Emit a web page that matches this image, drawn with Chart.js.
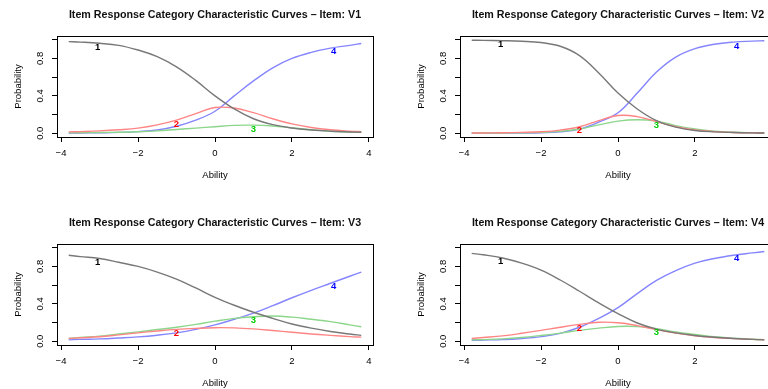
<!DOCTYPE html>
<html>
<head>
<meta charset="utf-8">
<script src="https://cdn.jsdelivr.net/npm/chart.js@4/dist/chart.umd.min.js"></script>
<style>
  html, body { margin: 0; padding: 0; background: #fff; overflow: hidden; width: 768px; height: 389px; }
  .panel { position: absolute; width: 403px; height: 208px; }
</style>
</head>
<body>
<canvas id="c1" class="panel" width="403" height="208" style="left:0px;top:0px"></canvas>
<canvas id="c2" class="panel" width="403" height="208" style="left:403px;top:0px"></canvas>
<canvas id="c3" class="panel" width="403" height="208" style="left:0px;top:208px"></canvas>
<canvas id="c4" class="panel" width="403" height="208" style="left:403px;top:208px"></canvas>
<script>
// ---- data ----
const theta = [-3.8, -3.5, -3, -2.5, -2, -1.5, -1, -0.5, 0, 0.5, 1, 1.5, 2, 2.5, 3, 3.5, 3.8];

const itemNames = ['V1', 'V2', 'V3', 'V4'];
const categoryNames = ['1', '2', '3', '4'];
const categoryLabelTheta = [-3.05, -1, 1, 3.08];

// Item V1
const v1Cat1 = [0.98, 0.975, 0.962, 0.94, 0.89, 0.82, 0.71, 0.565, 0.40, 0.26, 0.155, 0.092, 0.056, 0.035, 0.022, 0.014, 0.01];
const v1Cat2 = [0.015, 0.018, 0.025, 0.037, 0.055, 0.09, 0.14, 0.21, 0.275, 0.27, 0.22, 0.155, 0.10, 0.062, 0.037, 0.022, 0.016];
const v1Cat3 = [0.004, 0.005, 0.008, 0.011, 0.016, 0.025, 0.04, 0.055, 0.07, 0.084, 0.087, 0.078, 0.058, 0.038, 0.022, 0.013, 0.009];
const v1Cat4 = [0.002, 0.003, 0.005, 0.009, 0.018, 0.035, 0.075, 0.14, 0.235, 0.40, 0.56, 0.70, 0.80, 0.865, 0.91, 0.94, 0.96];

// Item V2
const v2Cat1 = [0.995, 0.993, 0.99, 0.984, 0.97, 0.93, 0.83, 0.645, 0.43, 0.26, 0.135, 0.065, 0.03, 0.015, 0.008, 0.004, 0.003];
const v2Cat2 = [0.002, 0.003, 0.005, 0.009, 0.016, 0.034, 0.07, 0.135, 0.19, 0.178, 0.125, 0.07, 0.035, 0.018, 0.008, 0.004, 0.002];
const v2Cat3 = [0.001, 0.002, 0.003, 0.005, 0.009, 0.02, 0.045, 0.09, 0.13, 0.145, 0.13, 0.082, 0.045, 0.022, 0.01, 0.005, 0.003];
const v2Cat4 = [0.0, 0.0, 0.001, 0.002, 0.005, 0.015, 0.045, 0.12, 0.22, 0.43, 0.655, 0.815, 0.905, 0.952, 0.975, 0.985, 0.99];

// Item V3
const v3Cat1 = [0.92, 0.905, 0.885, 0.845, 0.80, 0.74, 0.665, 0.57, 0.47, 0.385, 0.31, 0.245, 0.185, 0.14, 0.105, 0.077, 0.063];
const v3Cat2 = [0.03, 0.037, 0.048, 0.068, 0.09, 0.11, 0.127, 0.138, 0.145, 0.143, 0.132, 0.115, 0.097, 0.078, 0.063, 0.05, 0.044];
const v3Cat3 = [0.03, 0.04, 0.055, 0.078, 0.10, 0.125, 0.15, 0.18, 0.215, 0.245, 0.262, 0.27, 0.258, 0.235, 0.21, 0.175, 0.155];
const v3Cat4 = [0.015, 0.02, 0.025, 0.035, 0.047, 0.065, 0.09, 0.127, 0.175, 0.235, 0.30, 0.38, 0.465, 0.545, 0.62, 0.695, 0.74];

// Item V4
const v4Cat1 = [0.94, 0.925, 0.89, 0.835, 0.76, 0.655, 0.535, 0.41, 0.295, 0.195, 0.13, 0.09, 0.062, 0.043, 0.03, 0.02, 0.015];
const v4Cat2 = [0.03, 0.04, 0.058, 0.085, 0.116, 0.15, 0.18, 0.203, 0.198, 0.167, 0.124, 0.087, 0.058, 0.04, 0.028, 0.02, 0.015];
const v4Cat3 = [0.015, 0.018, 0.025, 0.04, 0.062, 0.087, 0.116, 0.14, 0.158, 0.157, 0.135, 0.10, 0.073, 0.048, 0.033, 0.022, 0.018];
const v4Cat4 = [0.01, 0.013, 0.018, 0.03, 0.05, 0.085, 0.15, 0.245, 0.36, 0.51, 0.65, 0.755, 0.835, 0.885, 0.92, 0.945, 0.96];

const xTicks = [-4, -2, 0, 2, 4];
const xTickLabels = ['\u22124', '\u22122', '0', '2', '4'];
const yTicks = [0, 0.2, 0.4, 0.6, 0.8, 1.0];
const yTickLabels = ['0.0', '', '0.4', '', '0.8', ''];

// ---- styling ----
const lineColors = ['#787878', '#ff8585', '#8cd68c', '#8585ff'];
const labelColors = ['#000000', '#ff0000', '#00cd00', '#0000ff'];
const FONT = '"Liberation Sans", Arial, Helvetica, sans-serif';

const items = [
  [v1Cat1, v1Cat2, v1Cat3, v1Cat4],
  [v2Cat1, v2Cat2, v2Cat3, v2Cat4],
  [v3Cat1, v3Cat2, v3Cat3, v3Cat4],
  [v4Cat1, v4Cat2, v4Cat3, v4Cat4]
];

function interp(xs, ys, t) {
  for (let i = 0; i < xs.length - 1; i++) {
    if (t >= xs[i] && t <= xs[i + 1]) {
      const f = (t - xs[i]) / (xs[i + 1] - xs[i]);
      return ys[i] + f * (ys[i + 1] - ys[i]);
    }
  }
  return ys[ys.length - 1];
}

const boxAndLabels = {
  id: 'boxAndLabels',
  afterDatasetsDraw(chart) {
    const {ctx, chartArea: a, scales: {x, y}} = chart;
    ctx.save();
    // category labels along each curve
    ctx.font = 'bold 9.5px ' + FONT;
    ctx.textAlign = 'center';
    ctx.textBaseline = 'middle';
    chart.data.datasets.forEach((ds, i) => {
      const t = categoryLabelTheta[i];
      const p = interp(theta, ds.probs, t);
      ctx.fillStyle = labelColors[i];
      ctx.fillText(categoryNames[i], x.getPixelForValue(t), y.getPixelForValue(p) + 4);
    });
    // plot box
    ctx.strokeStyle = '#000';
    ctx.lineWidth = 1;
    ctx.strokeRect(Math.round(a.left) + 0.5, Math.round(a.top) + 0.5,
                   Math.round(a.right - a.left), Math.round(a.bottom - a.top));
    ctx.restore();
  }
};

items.forEach((cats, k) => {
  const datasets = cats.map((probs, i) => ({
    label: categoryNames[i],
    probs: probs,
    data: theta.map((t, j) => ({x: t, y: probs[j]})),
    borderColor: lineColors[i],
    borderWidth: 1.4,
    pointRadius: 0,
    fill: false,
    tension: 0.4
  }));
  new Chart(document.getElementById('c' + (k + 1)), {
    type: 'line',
    data: { datasets },
    options: {
      responsive: false,
      animation: false,
      devicePixelRatio: 1,
      layout: { padding: { left: 0, right: 30, top: 0, bottom: 0 } },
      plugins: {
        legend: { display: false },
        tooltip: { enabled: false },
        title: {
          display: true,
          fullSize: false,
          text: 'Item Response Category Characteristic Curves \u2013 Item: ' + itemNames[k],
          color: '#111',
          font: { family: FONT, size: 10.7, weight: 'bold', lineHeight: 1.2 },
          padding: { top: 8.6, bottom: 14.56 }
        }
      },
      scales: {
        x: {
          type: 'linear',
          min: -4.104,
          max: 4.104,
          afterBuildTicks: s => { s.ticks = xTicks.map(v => ({ value: v })); },
          afterFit: s => { s.height = 71; },
          grid: { drawOnChartArea: false, tickLength: 5, tickColor: '#000', color: '#000' },
          border: { display: true, color: '#000' },
          ticks: {
            autoSkip: false, maxRotation: 0, minRotation: 0, padding: 6,
            color: '#000', font: { family: FONT, size: 9.5 },
            callback: (v, i) => xTickLabels[i]
          },
          title: {
            display: true, text: 'Ability', color: '#000',
            font: { family: FONT, size: 9.5 },
            padding: { top: 0, bottom: 27.4 }
          }
        },
        y: {
          type: 'linear',
          min: -0.04,
          max: 1.04,
          afterBuildTicks: s => { s.ticks = yTicks.map(v => ({ value: v })); },
          afterFit: s => { s.width = 57; },
          grid: { drawOnChartArea: false, tickLength: 5, tickColor: '#000', color: '#000' },
          border: { display: true, color: '#000' },
          ticks: {
            autoSkip: false, minRotation: 90, maxRotation: 90, crossAlign: 'center', padding: 5,
            color: '#000', font: { family: FONT, size: 9.5 },
            callback: (v, i) => yTickLabels[i]
          },
          title: {
            display: true, text: 'Probability', color: '#000',
            font: { family: FONT, size: 9.5 },
            padding: { top: 12.4, bottom: 0 }
          }
        }
      }
    },
    plugins: [boxAndLabels]
  });
});
</script>
</body>
</html>
